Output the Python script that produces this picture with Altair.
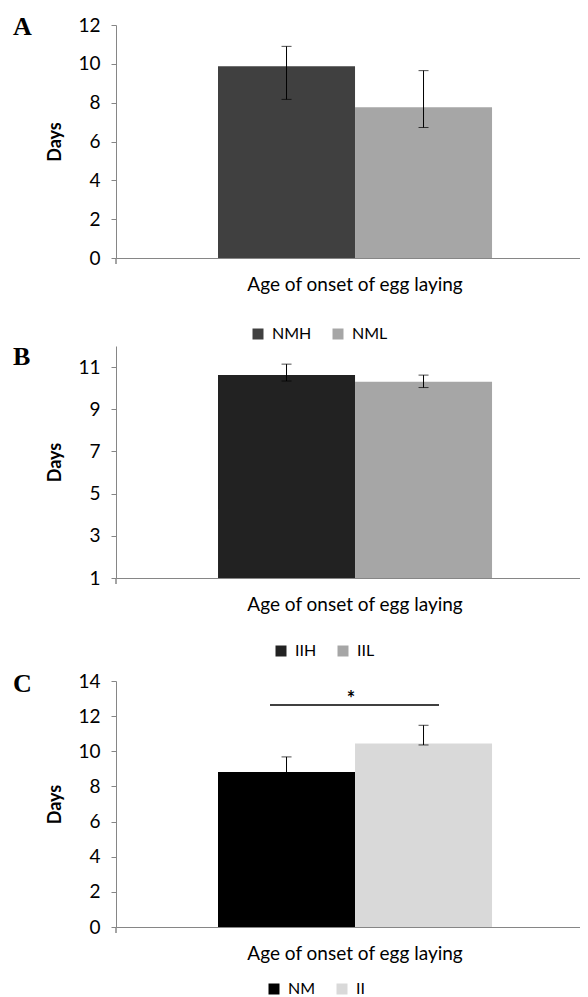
import altair as alt
import pandas as pd

category = "Age of onset of egg laying"

groups_a = ["NMH", "NML"]
means_a = [9.87, 7.77]
lo_a = [8.17, 6.72]
hi_a = [10.9, 9.65]
colors_a = ["#404040", "#a6a6a6"]

groups_b = ["IIH", "IIL"]
means_b = [10.62, 10.30]
lo_b = [10.34, 10.03]
hi_b = [11.14, 10.62]
colors_b = ["#222222", "#a6a6a6"]

groups_c = ["NM", "II"]
means_c = [8.82, 10.45]
lo_c = [7.96, 10.36]
hi_c = [9.68, 11.48]
colors_c = ["#000000", "#d9d9d9"]

sig_y = [12.63]
sig_label = ["*"]

FONT = "Lato"
W = 464


def panel(letter, groups, means, lo, hi, colors, domain, ticks, height,
          legend_x, legend_y, letter_y, legend_pad=0, sig=False):
    df = pd.DataFrame({"category": category, "group": groups,
                       "mean": means, "lo": lo, "hi": hi})
    xscale = alt.Scale(paddingInner=0, paddingOuter=0.3467, align=0.537)
    xaxis = alt.Axis(title=None, labelAngle=0, ticks=False, labelFontSize=19,
                     labelFont=FONT, labelColor="black", labelPadding=17,
                     labelLimit=0, domainColor="#868686")
    x = alt.X("category:N", scale=xscale, axis=xaxis)
    xo = alt.XOffset("group:N", sort=groups,
                     scale=alt.Scale(paddingInner=0, paddingOuter=0))
    yscale = alt.Scale(domain=domain, nice=False, zero=False)
    yaxis = alt.Axis(title="Days", values=ticks, tickCount=len(ticks),
                     grid=False, labelOverlap=False,
                     domainColor="#868686", tickColor="#868686", tickSize=5,
                     labelFontSize=19, labelFont=FONT, labelColor="black",
                     labelPadding=11, titleFont=FONT, titleFontSize=18,
                     titleFontWeight="bold", titleColor="black",
                     titlePadding=13)
    y = alt.Y("mean:Q", scale=yscale, axis=yaxis)
    color = alt.Color("group:N", sort=groups,
                      scale=alt.Scale(domain=groups, range=colors),
                      legend=alt.Legend(orient="none", legendX=legend_x, legendY=legend_y,
                                        direction="horizontal", title=None,
                                        symbolType="square", symbolSize=121,
                                        symbolStrokeWidth=0, labelFontSize=16,
                                        labelFont=FONT, labelColor="black",
                                        columnPadding=18, labelOffset=6,
                                        padding=legend_pad))
    base = alt.Chart(df)
    bars = base.mark_bar().encode(x=x, xOffset=xo, y=y,
                                  y2=alt.Y2(datum=domain[0]), color=color)
    rule = base.mark_rule(color="black", strokeWidth=1).encode(
        x=x, xOffset=xo, y=alt.Y("lo:Q", scale=yscale, axis=yaxis), y2="hi:Q")
    cap_lo = base.mark_tick(color="black", size=10, thickness=1).encode(
        x=x, xOffset=xo, y=alt.Y("lo:Q", scale=yscale, axis=yaxis))
    cap_hi = base.mark_tick(color="black", size=10, thickness=1).encode(
        x=x, xOffset=xo, y=alt.Y("hi:Q", scale=yscale, axis=yaxis))
    edge_tick = base.mark_rule(color="#868686", strokeWidth=1).encode(
        x=alt.value(0), y=alt.value(height), y2=alt.value(height + 6))
    lt = alt.Chart(pd.DataFrame({"letter": [letter]})).mark_text(
        font="Liberation Serif", fontSize=26, fontWeight="bold", align="left",
        baseline="alphabetic", color="black").encode(
        text="letter:N", x=alt.value(-103), y=alt.value(letter_y))
    layers = [bars, rule, cap_lo, cap_hi, edge_tick, lt]
    if sig:
        sdf = pd.DataFrame({"y": sig_y, "label": sig_label})
        line = alt.Chart(sdf).mark_rule(color="black", strokeWidth=1.5).encode(
            y=alt.Y("y:Q", scale=yscale, axis=yaxis), x=alt.value(154), x2=alt.value(323))
        star = alt.Chart(sdf).mark_text(fontSize=20, fontWeight="bold", font=FONT,
                                        baseline="alphabetic", dy=1,
                                        color="black").encode(
            y=alt.Y("y:Q", scale=yscale, axis=yaxis), x=alt.value(235), text="label:N")
        layers += [line, star]
    return alt.layer(*layers).properties(width=W, height=height)


pa = panel("A", groups_a, means_a, lo_a, hi_a, colors_a, [0, 12],
           [0, 2, 4, 6, 8, 10, 12], 233, 134, 301, 10)
pb = panel("B", groups_b, means_b, lo_b, hi_b, colors_b, [1, 12],
           [1, 3, 5, 7, 9, 11], 232, 147, 287, 19, legend_pad=10)
pc = panel("C", groups_c, means_c, lo_c, hi_c, colors_c, [0, 14],
           [0, 2, 4, 6, 8, 10, 12, 14], 246, 150, 300, 11, sig=True)

chart = alt.vconcat(pa, pb, pc, spacing=2).resolve_scale(
    color="independent", y="independent", x="independent", xOffset="independent"
).properties(
    padding={"left": 5, "top": 6, "right": 0, "bottom": 0}
).configure_view(stroke=None)

chart.save("out.html", embed_options={"renderer": "svg", "actions": False})
